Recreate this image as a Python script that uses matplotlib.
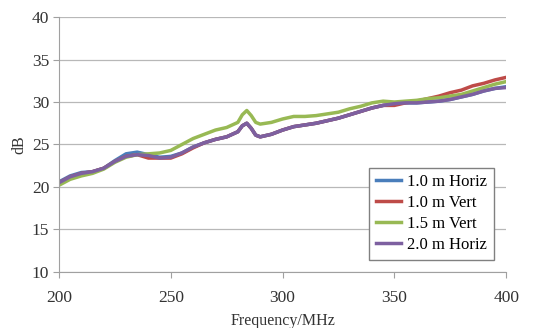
import matplotlib
matplotlib.use("Agg")
import matplotlib.pyplot as plt

plt.rcParams["font.family"] = ["Liberation Serif", "DejaVu Serif"]

freq = [200, 205, 210, 215, 220, 225, 230, 235, 240, 245, 250, 255, 260, 265,
        270, 275, 280, 282, 284, 286, 288, 290, 295, 300, 305, 310, 315, 320, 325,
        330, 335, 340, 345, 350, 355, 360, 365, 370, 375, 380, 385, 390, 395, 400]

h10 = [20.6, 21.3, 21.7, 21.8, 22.2, 23.1, 23.9, 24.1, 23.8, 23.5, 23.6, 24.0,
       24.7, 25.2, 25.6, 25.9, 26.5, 27.2, 27.5, 26.9, 26.1, 25.9, 26.2, 26.7, 27.1,
       27.3, 27.5, 27.8, 28.1, 28.5, 28.9, 29.3, 29.6, 29.8, 29.9, 29.9, 30.0,
       30.1, 30.3, 30.6, 30.9, 31.3, 31.6, 31.8]
v10 = [20.5, 21.2, 21.6, 21.8, 22.2, 23.0, 23.6, 23.8, 23.4, 23.4, 23.4, 23.9,
       24.6, 25.2, 25.6, 25.9, 26.5, 27.2, 27.5, 26.9, 26.1, 25.9, 26.2, 26.7, 27.1,
       27.3, 27.5, 27.8, 28.1, 28.5, 28.9, 29.3, 29.6, 29.6, 29.9, 30.1, 30.4,
       30.7, 31.1, 31.4, 31.9, 32.2, 32.6, 32.9]
v15 = [20.2, 20.9, 21.3, 21.6, 22.1, 22.9, 23.5, 23.8, 23.9, 24.0, 24.3, 25.0,
       25.7, 26.2, 26.7, 27.0, 27.6, 28.5, 29.0, 28.4, 27.6, 27.4, 27.6, 28.0, 28.3,
       28.3, 28.4, 28.6, 28.8, 29.2, 29.5, 29.9, 30.1, 30.0, 30.1, 30.2, 30.4,
       30.5, 30.7, 30.9, 31.3, 31.7, 32.1, 32.4]
h20 = [20.5, 21.2, 21.6, 21.8, 22.2, 23.0, 23.6, 23.8, 23.7, 23.4, 23.5, 24.0,
       24.7, 25.2, 25.6, 25.9, 26.5, 27.2, 27.5, 26.9, 26.1, 25.9, 26.2, 26.7, 27.1,
       27.3, 27.5, 27.8, 28.1, 28.5, 28.9, 29.3, 29.6, 29.8, 29.9, 29.9, 30.0,
       30.1, 30.3, 30.6, 30.9, 31.3, 31.6, 31.7]

series = [
    ("1.0 m Horiz", h10, "#4A7EBB"),
    ("1.0 m Vert", v10, "#BE4B48"),
    ("1.5 m Vert", v15, "#98B954"),
    ("2.0 m Horiz", h20, "#7D60A0"),
]

fig = plt.figure(figsize=(5.46, 3.28), dpi=100)
ax = fig.add_axes([0.108, 0.171, 0.819, 0.777])

for label, vals, color in series:
    ax.plot(freq, vals, color=color, lw=2.5, label=label)

ax.set_xlim(200, 400)
ax.set_ylim(10, 40)
ax.set_xticks([200, 250, 300, 350, 400])
ax.set_yticks([10, 15, 20, 25, 30, 35, 40])
ax.yaxis.grid(True, color="#b8b8b8", lw=0.9)
ax.set_axisbelow(True)
for s in ["top", "right"]:
    ax.spines[s].set_visible(False)
for s in ["left", "bottom"]:
    ax.spines[s].set_color("#a0a0a0")
ax.tick_params(colors="#a0a0a0", labelcolor="#333333", labelsize=12.5, length=4)
ax.tick_params(axis="x", pad=9)
ax.tick_params(axis="y", pad=3)
ax.set_xlabel("Frequency/MHz", fontsize=11.5, color="#333333", labelpad=5)
ax.set_ylabel("dB", fontsize=11.5, color="#333333", labelpad=3)

leg = ax.legend(loc="lower right", bbox_to_anchor=(0.973, 0.047), fontsize=12,
                fancybox=False, framealpha=1, edgecolor="#808080",
                handlelength=1.5, handletextpad=0.4, borderpad=0.4,
                labelspacing=0.3, borderaxespad=0)
leg.get_frame().set_linewidth(1.0)

fig.savefig("out.png", dpi=100)
